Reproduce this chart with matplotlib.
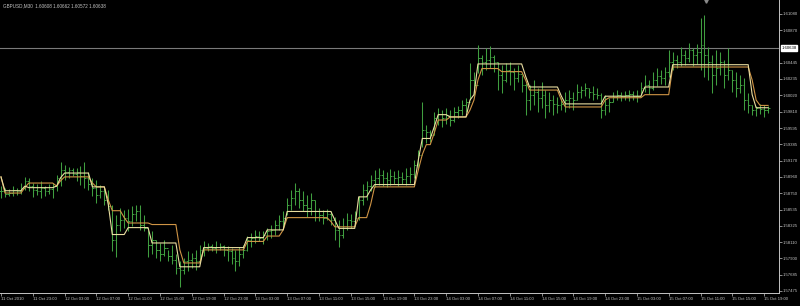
import numpy as np
import matplotlib
matplotlib.use("Agg")
import matplotlib.pyplot as plt
import matplotlib.transforms as mtransforms

# GBPUSD M30 bars, one row per 4 hours (8 bars)
highs = [
    1.5884, 1.5882, 1.5880, 1.5884, 1.5882, 1.5888, 1.5896, 1.5895,
    1.5888, 1.5887, 1.5890, 1.5884, 1.5887, 1.5888, 1.5899, 1.5916,
    1.5912, 1.5909, 1.5908, 1.5908, 1.5910, 1.5916, 1.5903, 1.5895,
    1.5892, 1.5886, 1.5882, 1.5879, 1.5860, 1.5847, 1.5856, 1.5853,
    1.5854, 1.5858, 1.5860, 1.5860, 1.5847, 1.5827, 1.5825, 1.5814,
    1.5810, 1.5814, 1.5801, 1.5808, 1.5795, 1.5786, 1.5791, 1.5799,
    1.5797, 1.5801, 1.5808, 1.5812, 1.5810, 1.5809, 1.5812, 1.5810,
    1.5808, 1.5806, 1.5804, 1.5801, 1.5805, 1.5808, 1.5819, 1.5823,
    1.5827, 1.5826, 1.5825, 1.5830, 1.5834, 1.5840, 1.5847, 1.5851,
    1.5869, 1.5879, 1.5888, 1.5882, 1.5877, 1.5873, 1.5875, 1.5866,
    1.5856, 1.5853, 1.5854, 1.5851, 1.5844, 1.5840, 1.5843, 1.5849,
    1.5848, 1.5851, 1.5871, 1.5887, 1.5890, 1.5899, 1.5905, 1.5908,
    1.5905, 1.5903, 1.5906, 1.5904, 1.5905, 1.5903, 1.5908, 1.5909,
    1.5918, 1.5931, 1.5994, 1.5964, 1.5957, 1.5981, 1.5986, 1.5983,
    1.5986, 1.5983, 1.5987, 1.5988, 1.5996, 1.5999, 1.6044, 1.6033,
    1.6068, 1.6055, 1.6064, 1.6066, 1.6055, 1.6046, 1.6042, 1.6044,
    1.6046, 1.6038, 1.6042, 1.6029, 1.6018, 1.6016, 1.6022, 1.6012,
    1.6020, 1.6009, 1.6007, 1.6003, 1.6000, 1.5999, 1.6007, 1.6009,
    1.6007, 1.6017, 1.6014, 1.6018, 1.6012, 1.6014, 1.6012, 1.6005,
    1.6003, 1.5999, 1.6007, 1.6009, 1.6007, 1.6008, 1.6009, 1.6008,
    1.6009, 1.6020, 1.6029, 1.6022, 1.6033, 1.6038, 1.6035, 1.6039,
    1.6061, 1.6059, 1.6055, 1.6065, 1.6061, 1.6070, 1.6064, 1.6069,
    1.6103, 1.6107, 1.6065, 1.6055, 1.6061, 1.6059, 1.6048, 1.6064,
    1.6035, 1.6033, 1.6029, 1.6025, 1.6005, 1.5990, 1.5988, 1.5991,
    1.5990, 1.5988,
]
lows = [
    1.5869, 1.5870, 1.5871, 1.5871, 1.5873, 1.5874, 1.5879, 1.5878,
    1.5870, 1.5873, 1.5869, 1.5871, 1.5874, 1.5869, 1.5877, 1.5884,
    1.5892, 1.5895, 1.5897, 1.5890, 1.5886, 1.5882, 1.5879, 1.5871,
    1.5862, 1.5869, 1.5860, 1.5853, 1.5799, 1.5792, 1.5825, 1.5830,
    1.5825, 1.5832, 1.5838, 1.5827, 1.5825, 1.5792, 1.5795, 1.5791,
    1.5786, 1.5793, 1.5786, 1.5782, 1.5769, 1.5753, 1.5769, 1.5773,
    1.5778, 1.5775, 1.5786, 1.5793, 1.5799, 1.5799, 1.5797, 1.5801,
    1.5793, 1.5786, 1.5782, 1.5773, 1.5780, 1.5791, 1.5799, 1.5805,
    1.5810, 1.5812, 1.5809, 1.5814, 1.5817, 1.5821, 1.5827, 1.5830,
    1.5847, 1.5853, 1.5860, 1.5856, 1.5851, 1.5844, 1.5847, 1.5838,
    1.5838, 1.5835, 1.5840, 1.5834, 1.5814, 1.5805, 1.5817, 1.5827,
    1.5830, 1.5832, 1.5840, 1.5860, 1.5866, 1.5877, 1.5883, 1.5886,
    1.5884, 1.5883, 1.5886, 1.5887, 1.5884, 1.5887, 1.5886, 1.5888,
    1.5895, 1.5908, 1.5935, 1.5940, 1.5942, 1.5951, 1.5964, 1.5961,
    1.5965, 1.5962, 1.5968, 1.5973, 1.5977, 1.5981, 1.5996, 1.6003,
    1.6031, 1.6029, 1.6035, 1.6038, 1.6033, 1.6009, 1.6005, 1.6020,
    1.6016, 1.6009, 1.6020, 1.6007, 1.5977, 1.5983, 1.5990, 1.5981,
    1.5986, 1.5973, 1.5981, 1.5977, 1.5979, 1.5983, 1.5981, 1.5986,
    1.5983, 1.5996, 1.5999, 1.6001, 1.5999, 1.5996, 1.5998, 1.5973,
    1.5977, 1.5981, 1.5994, 1.5996, 1.5995, 1.5996, 1.5995, 1.5996,
    1.5994, 1.6003, 1.6007, 1.6004, 1.6009, 1.6014, 1.6017, 1.6016,
    1.6026, 1.6035, 1.6038, 1.6040, 1.6041, 1.6046, 1.6040, 1.6043,
    1.6035, 1.6026, 1.6022, 1.6005, 1.6016, 1.6029, 1.6012, 1.6022,
    1.6007, 1.6000, 1.6005, 1.5983, 1.5979, 1.5977, 1.5975, 1.5978,
    1.5974, 1.5979,
]
closes = [
    1.5877, 1.5874, 1.5875, 1.5879, 1.5877, 1.5882, 1.5890, 1.5884,
    1.5879, 1.5877, 1.5882, 1.5878, 1.5880, 1.5884, 1.5895, 1.5905,
    1.5903, 1.5905, 1.5900, 1.5903, 1.5897, 1.5895, 1.5887, 1.5882,
    1.5873, 1.5877, 1.5866, 1.5858, 1.5814, 1.5834, 1.5840, 1.5843,
    1.5838, 1.5848, 1.5851, 1.5834, 1.5830, 1.5808, 1.5814, 1.5801,
    1.5795, 1.5804, 1.5793, 1.5788, 1.5778, 1.5775, 1.5786, 1.5788,
    1.5791, 1.5786, 1.5801, 1.5804, 1.5806, 1.5804, 1.5805, 1.5806,
    1.5801, 1.5799, 1.5791, 1.5786, 1.5795, 1.5801, 1.5814, 1.5817,
    1.5819, 1.5817, 1.5821, 1.5825, 1.5827, 1.5834, 1.5838, 1.5843,
    1.5860, 1.5869, 1.5877, 1.5866, 1.5860, 1.5856, 1.5866, 1.5851,
    1.5847, 1.5843, 1.5848, 1.5840, 1.5827, 1.5821, 1.5830, 1.5840,
    1.5838, 1.5843, 1.5866, 1.5879, 1.5884, 1.5892, 1.5895, 1.5899,
    1.5895, 1.5892, 1.5897, 1.5895, 1.5896, 1.5893, 1.5897, 1.5900,
    1.5912, 1.5925, 1.5957, 1.5955, 1.5951, 1.5973, 1.5978, 1.5973,
    1.5977, 1.5970, 1.5981, 1.5983, 1.5990, 1.5994, 1.6022, 1.6016,
    1.6051, 1.6046, 1.6048, 1.6052, 1.6046, 1.6029, 1.6022, 1.6035,
    1.6033, 1.6025, 1.6030, 1.6016, 1.5996, 1.6003, 1.6007, 1.5999,
    1.6003, 1.5990, 1.5996, 1.5991, 1.5990, 1.5991, 1.5996, 1.5999,
    1.5996, 1.6007, 1.6009, 1.6012, 1.6007, 1.6004, 1.6003, 1.5983,
    1.5990, 1.5994, 1.6000, 1.6003, 1.6001, 1.6003, 1.6004, 1.6001,
    1.6001, 1.6012, 1.6016, 1.6012, 1.6022, 1.6027, 1.6025, 1.6033,
    1.6046, 1.6048, 1.6046, 1.6055, 1.6051, 1.6061, 1.6055, 1.6059,
    1.6068, 1.6055, 1.6046, 1.6029, 1.6038, 1.6046, 1.6029, 1.6035,
    1.6022, 1.6012, 1.6016, 1.5996, 1.5990, 1.5983, 1.5986, 1.5984,
    1.5983, 1.5986,
]

# step indicator lines: level and number of bars it holds
fast_levels = [1.5896, 1.5878, 1.5884, 1.5882, 1.5884, 1.5895, 1.5901, 1.5883,
               1.5860, 1.5821, 1.5830, 1.5810, 1.5779, 1.5804, 1.5817, 1.5827,
               1.5851, 1.5840, 1.5829, 1.5870, 1.5879, 1.5886, 1.5918, 1.5946,
               1.5961, 1.5977, 1.5974, 1.5996, 1.6003, 1.6043, 1.6027, 1.6013,
               1.6001, 1.5991, 1.6001, 1.6013, 1.6042, 1.6003, 1.5986]
fast_runs = [1, 5, 1, 7, 1, 1, 7, 4,
             1, 4, 6, 7, 6, 11, 5, 5,
             12, 1, 5, 3, 1, 11, 1, 3,
             1, 3, 5, 1, 1, 12, 1, 8,
             1, 10, 10, 7, 20, 1, 4]
slow_levels = [1.5896, 1.5875, 1.5882, 1.5888, 1.5884, 1.5891, 1.5896, 1.5888,
               1.5883, 1.5866, 1.5852, 1.5843, 1.5836, 1.5834, 1.5801, 1.5784,
               1.5801, 1.5812, 1.5819, 1.5827, 1.5843, 1.5838, 1.5831, 1.5843,
               1.5860, 1.5883, 1.5905, 1.5925, 1.5938, 1.5953, 1.5970, 1.5974,
               1.5983, 1.5996, 1.6022, 1.6037, 1.6033, 1.6022, 1.6009, 1.5996,
               1.5987, 1.5996, 1.5999, 1.6003, 1.6039, 1.6022, 1.5996, 1.5989]
slow_runs = [1, 5, 1, 7, 1, 1, 7, 1,
             3, 1, 3, 1, 6, 7, 1, 5,
             11, 5, 4, 1, 11, 1, 6, 3,
             1, 11, 1, 1, 2, 1, 3, 5,
             1, 1, 1, 5, 6, 1, 8, 1,
             10, 1, 9, 7, 20, 1, 1, 3]

x_labels = ["11 Oct 2010", "11 Oct 23:00", "12 Oct 03:00", "12 Oct 07:00",
            "12 Oct 11:00", "12 Oct 15:00", "12 Oct 19:00", "12 Oct 23:00",
            "13 Oct 03:00", "13 Oct 07:00", "13 Oct 11:00", "13 Oct 15:00",
            "13 Oct 19:00", "13 Oct 23:00", "14 Oct 03:00", "14 Oct 07:00",
            "14 Oct 11:00", "14 Oct 15:00", "14 Oct 19:00", "14 Oct 23:00",
            "15 Oct 03:00", "15 Oct 07:00", "15 Oct 11:00", "15 Oct 15:00",
            "15 Oct 19:00"]
y_ticks = [1.57475, 1.57685, 1.57900, 1.58110, 1.58325, 1.58535, 1.58750,
           1.58960, 1.59170, 1.59385, 1.59595, 1.59810, 1.60020, 1.60235,
           1.60445, 1.60870, 1.61080]

symbol = "GBPUSD,M30"
last_ohlc = [1.60608, 1.60662, 1.60572, 1.60638]
bid = 1.60638

plt.rcParams['font.family'] = ['Liberation Sans', 'DejaVu Sans']

bar_col = '#3f9e3f'
fast_col = '#e9dda0'
slow_col = '#cf9445'
axis_col = '#c4c4c4'
fs = 3.1

fig = plt.figure(figsize=(8, 3.06), dpi=100, facecolor='black')
ax = fig.add_axes([0.0, 0.0425, 0.974, 0.9575])
ax.set_facecolor('black')

x = np.arange(len(highs))
opens = np.r_[closes[0], closes[:-1]]

# price line behind everything
ax.axhline(bid, color='#7a7a7a', lw=0.8, zorder=0.5)

# OHLC bars
ax.vlines(x, lows, highs, color=bar_col, lw=0.75, zorder=2)
ax.hlines(opens, x - 0.4, x, color=bar_col, lw=0.7, zorder=2)
ax.hlines(closes, x, x + 0.4, color=bar_col, lw=0.7, zorder=2)

# indicator lines
slow = np.repeat(slow_levels, slow_runs)
fast = np.repeat(fast_levels, fast_runs)
ax.plot(x[:len(slow)], slow, color=slow_col, lw=0.8, zorder=3)
ax.plot(x[:len(fast)], fast, color=fast_col, lw=0.8, zorder=4)

ax.set_xlim(-0.25, 195.8)
ax.set_ylim(1.57449, 1.61262)

# axes styling like the terminal
for side in ['top', 'left']:
    ax.spines[side].set_visible(False)
for side in ['right', 'bottom']:
    ax.spines[side].set_color(axis_col)
    ax.spines[side].set_linewidth(0.7)

ax.yaxis.tick_right()
ax.set_yticks(y_ticks)
ax.set_yticklabels([f'{v:.5f}' for v in y_ticks])
ax.set_xticks(np.arange(0, 8 * len(x_labels), 8))
ax.set_xticklabels(x_labels)
for lbl in ax.get_xticklabels():
    lbl.set_horizontalalignment('left')
ax.tick_params(axis='both', colors=axis_col, labelcolor=axis_col,
               labelsize=fs, length=1.8, width=0.5, pad=0.8)

# current bid label box
trans = mtransforms.blended_transform_factory(ax.transAxes, ax.transData)
ax.text(1.003, bid, f'{bid:.5f}', transform=trans, fontsize=fs, color='black',
        va='center', ha='left',
        bbox=dict(boxstyle='square,pad=0.15', fc='white', ec='white'))

# header
header = symbol + '  ' + ' '.join(f'{v:.5f}' for v in last_ohlc)
ax.text(0.004, 0.99, header, transform=ax.transAxes, fontsize=fs + 0.2,
        color=axis_col, va='top', ha='left')

# chart shift marker at the top
trans_x = mtransforms.blended_transform_factory(ax.transData, ax.transAxes)
ax.plot([177.4], [0.997], marker='v', ms=2.5, color='#8a8a8a',
        transform=trans_x, clip_on=False, zorder=5)

fig.savefig('out.png', dpi=100, facecolor='black')
